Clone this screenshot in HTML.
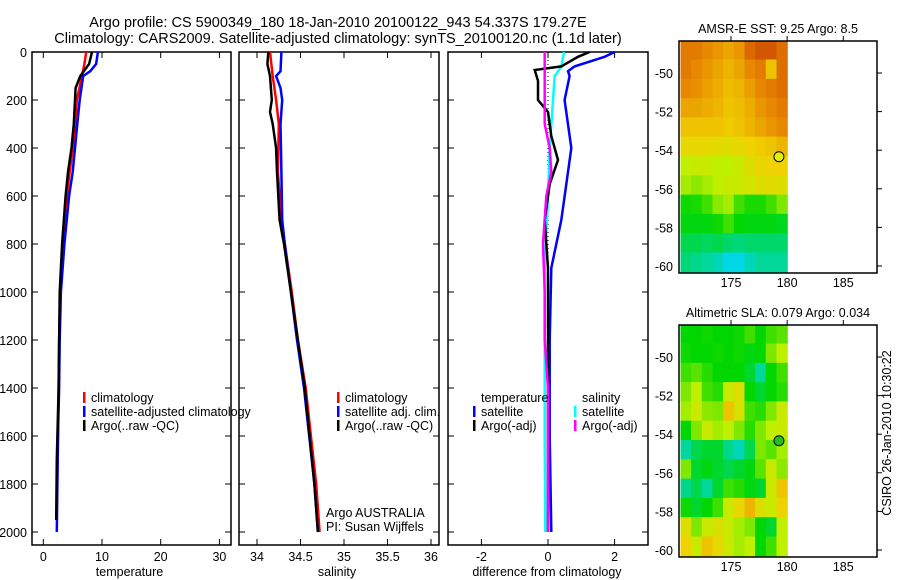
<!DOCTYPE html>
<html><head><meta charset="utf-8"><style>
body{margin:0;background:#fff;}
svg{display:block;font-family:"Liberation Sans",sans-serif;}
</style></head><body>
<svg id="fig" width="900" height="580" xmlns="http://www.w3.org/2000/svg">
<text x="338" y="27" font-size="14.5" text-anchor="middle">Argo profile: CS 5900349_180 18-Jan-2010 20100122_943 54.337S 179.27E</text>
<text x="338" y="43" font-size="14.5" text-anchor="middle">Climatology: CARS2009. Satellite-adjusted climatology: synTS_20100120.nc (1.1d later)</text>
<g id="plots"></g>
<text transform="translate(891,433) rotate(-90)" font-size="12.5" text-anchor="middle">CSIRO 26-Jan-2010 10:30:22</text>
</svg>
<script>
// ---------- data ----------
const tempClimDepth=[0,50,100,200,300,400,500,600,700,800,1000,1200,1400,1600,1880];
const tempClim=[7.3,7.0,6.6,5.7,5.5,5.0,4.5,4.0,3.6,3.3,2.9,2.7,2.6,2.5,2.3];
const tempSatDepth=[0,50,80,100,200,300,400,500,600,800,1000,1200,1400,1600,1800,2000];
const tempSat=[9.3,9.0,8.0,6.8,6.2,5.8,5.4,5.0,4.4,3.6,3.0,2.8,2.7,2.5,2.4,2.3];
const tempArgoDepth=[0,50,100,150,200,300,400,500,600,800,1000,1400,1700,1950];
const tempArgo=[8.3,7.8,6.3,5.5,5.4,5.2,4.8,4.2,3.8,3.2,2.8,2.6,2.3,2.2];

const salClimDepth=[0,100,200,300,500,700,800,1000,1200,1400,1600,1800,2000];
const salClim=[34.15,34.18,34.22,34.25,34.24,34.28,34.32,34.40,34.47,34.56,34.62,34.68,34.72];
const salSatDepth=[0,80,100,150,200,300,500,700,800,1000,1200,1400,1600,1800,2000];
const salSat=[34.28,34.27,34.22,34.27,34.29,34.27,34.28,34.29,34.32,34.39,34.46,34.54,34.60,34.66,34.70];
const salArgoDepth=[0,50,100,200,250,300,400,500,700,800,1000,1400,1800,2000];
const salArgo=[34.13,34.12,34.15,34.17,34.15,34.18,34.22,34.23,34.26,34.31,34.39,34.55,34.66,34.70];

const dTSatDepth=[0,20,60,80,100,200,400,500,700,800,900,1200,1600,2000];
const dTSat=[2.0,1.7,0.8,0.6,0.65,0.5,0.7,0.6,0.4,0.25,0.1,0.05,0.05,0.1];
const dSSatDepth=[0,60,100,200,400,600,900,1200,1600,2000];
const dSSat=[0.48,0.4,0.2,0.15,0.05,0.0,-0.1,-0.1,-0.1,-0.08];
const dTArgoDepth=[0,20,60,75,120,200,250,350,450,550,700,900,1200,2000];
const dTArgo=[1.25,0.9,0.4,-0.4,-0.3,-0.3,0.0,0.1,0.3,0.05,-0.1,0,0,0];
const dSArgoDepth=[0,100,200,300,400,500,600,800,1000,1200,1400,2000];
const dSArgo=[-0.1,-0.1,-0.1,-0.1,0.05,0.1,-0.05,-0.15,-0.1,-0.1,0.0,0.0];

const mapLons=[171,172,173,174,175,176,177,178,179,180];
const mapLats=[-48.8,-49.8,-50.8,-51.8,-52.8,-53.8,-54.8,-55.8,-56.8,-57.8,-58.8,-59.8];
const sstGrid=[
[0.82,0.82,0.80,0.78,0.76,0.78,0.85,0.88,0.88,0.84],
[0.82,0.80,0.78,0.76,0.74,0.76,0.80,0.82,0.72,0.84],
[0.80,0.79,0.77,0.75,0.73,0.74,0.77,0.80,0.82,0.84],
[0.76,0.76,0.75,0.74,0.72,0.73,0.75,0.78,0.80,0.82],
[0.72,0.72,0.72,0.72,0.71,0.72,0.74,0.76,0.78,0.80],
[0.68,0.68,0.68,0.67,0.67,0.68,0.70,0.71,0.72,0.74],
[0.60,0.62,0.62,0.60,0.60,0.62,0.66,0.69,0.70,0.70],
[0.58,0.56,0.58,0.60,0.62,0.62,0.64,0.66,0.67,0.66],
[0.46,0.47,0.50,0.56,0.58,0.50,0.47,0.47,0.50,0.55],
[0.44,0.44,0.44,0.46,0.50,0.45,0.44,0.44,0.44,0.43],
[0.40,0.40,0.39,0.40,0.38,0.37,0.38,0.38,0.38,0.38],
[0.37,0.36,0.35,0.33,0.30,0.30,0.33,0.35,0.35,0.35]];
const slaGrid=[
[0.45,0.45,0.46,0.45,0.45,0.46,0.50,0.45,0.50,0.52],
[0.46,0.45,0.45,0.46,0.45,0.46,0.44,0.45,0.55,0.60],
[0.50,0.52,0.48,0.45,0.45,0.45,0.42,0.35,0.45,0.50],
[0.55,0.60,0.50,0.48,0.62,0.66,0.45,0.42,0.45,0.48],
[0.58,0.62,0.56,0.55,0.72,0.65,0.50,0.48,0.55,0.62],
[0.45,0.55,0.62,0.58,0.60,0.55,0.48,0.55,0.60,0.62],
[0.35,0.40,0.42,0.42,0.36,0.33,0.40,0.55,0.52,0.58],
[0.55,0.42,0.44,0.42,0.40,0.42,0.44,0.52,0.62,0.56],
[0.36,0.40,0.35,0.42,0.50,0.48,0.44,0.42,0.62,0.72],
[0.46,0.42,0.45,0.50,0.62,0.68,0.74,0.66,0.62,0.70],
[0.66,0.55,0.62,0.65,0.62,0.58,0.55,0.45,0.42,0.60],
[0.70,0.62,0.72,0.68,0.62,0.58,0.60,0.45,0.50,0.60]];
const argoLon=[179.27], argoLat=[-54.337];
const profileDepthTicks=[0,200,400,600,800,1000,1200,1400,1600,1800,2000];
const tempTicks=[0,10,20,30], salTicks=[34,34.5,35,35.5,36], diffTicks=[-2,0,2];
const mapLonTicks=[175,180,185], mapLatTicks=[-50,-52,-54,-56,-58,-60];

// ---------- drawing ----------
const NS="http://www.w3.org/2000/svg";
const root=document.getElementById('plots');
function mk(tag,attrs,parent){const e=document.createElementNS(NS,tag);for(const k in attrs)e.setAttribute(k,attrs[k]);(parent||root).appendChild(e);return e;}
function txt(x,y,s,size,anchor,parent){const t=mk('text',{x:x,y:y,'font-size':size,'text-anchor':anchor||'start'},parent);t.textContent=s;return t;}

const yD=d=>52+d*0.24;
const panels=[
 {name:'temperature',x0:32,x1:231,sx:v=>43.3+v*5.87,ticks:tempTicks,label:'temperature'},
 {name:'salinity',x0:239,x1:439,sx:v=>257+(v-34)*87,ticks:salTicks,label:'salinity'},
 {name:'difference',x0:448,x1:648,sx:v=>548+v*33.3,ticks:diffTicks,label:'difference from climatology'}];
panels.forEach((p,i)=>{
 const g=mk('g',{});
 
 
 mk('rect',{x:p.x0,y:52,width:p.x1-p.x0,height:493,fill:'none',stroke:'#000','stroke-width':1.5},g);
 profileDepthTicks.forEach(d=>{
  mk('line',{x1:p.x0,x2:p.x0+6,y1:yD(d),y2:yD(d),stroke:'#000'},g);
  mk('line',{x1:p.x1,x2:p.x1-6,y1:yD(d),y2:yD(d),stroke:'#000'},g);
  if(i===0){const t=txt(27,yD(d)+5,String(d),12.5,'end',g);}
 });
 p.ticks.forEach(v=>{
  const x=p.sx(v);
  mk('line',{x1:x,x2:x,y1:545,y2:539,stroke:'#000'},g);
  mk('line',{x1:x,x2:x,y1:52,y2:58,stroke:'#000'},g);
  const t=txt(x,561,String(v),12.5,'middle',g);
  
  
 });
 const xl=txt((p.x0+p.x1)/2+(i===2?-1:-2),576,p.label,12.5,'middle',g);
 
 
});
function line(panel,depths,vals,color,name){
 const pts=depths.map((d,k)=>panel.sx(vals[k]).toFixed(1)+','+yD(d).toFixed(1)).join(' ');
 const l=mk('polyline',{points:pts,fill:'none',stroke:color,'stroke-width':2.5});
 
 
}
mk('line',{x1:548,x2:548,y1:52,y2:532,stroke:'#000','stroke-dasharray':'1,3'});
line(panels[0],tempClimDepth,tempClim,'#f00','temp-climatology-line');
line(panels[0],tempSatDepth,tempSat,'#00f','temp-satellite-line');
line(panels[0],tempArgoDepth,tempArgo,'#000','temp-argo-line');
line(panels[1],salClimDepth,salClim,'#f00','sal-climatology-line');
line(panels[1],salSatDepth,salSat,'#00f','sal-satellite-line');
line(panels[1],salArgoDepth,salArgo,'#000','sal-argo-line');
line(panels[2],dTSatDepth,dTSat,'#00f','diff-temp-satellite-line');
line(panels[2],dSSatDepth,dSSat,'#0ff','diff-sal-satellite-line');
line(panels[2],dTArgoDepth,dTArgo,'#000','diff-temp-argo-line');
line(panels[2],dSArgoDepth,dSArgo,'#f0f','diff-sal-argo-line');

function legend(x,y,color,label,name){
 const g=mk('g',{});
 
 
 if(color)mk('rect',{x:x,y:y-10,width:2.5,height:11,fill:color},g);
 txt(x+8,y,label,12.5,'start',g);
}
legend(83,402,'#f00','climatology','legend-climatology');
legend(83,416,'#00f','satellite-adjusted climatology','legend-satellite-adjusted');
legend(83,430,'#000','Argo(..raw -QC)','legend-argo-raw');
legend(337,402,'#f00','climatology','legend-sal-climatology');
legend(337,416,'#00f','satellite adj. clim.','legend-sal-satellite');
legend(337,430,'#000','Argo(..raw -QC)','legend-sal-argo');
legend(473,402,null,'temperature','legend-temperature-header');
legend(473,416,'#00f','satellite','legend-diff-temp-sat');
legend(473,430,'#000','Argo(-adj)','legend-diff-temp-argo');
legend(574,402,null,'salinity','legend-salinity-header');
legend(574,416,'#0ff','satellite','legend-diff-sal-sat');
legend(574,430,'#f0f','Argo(-adj)','legend-diff-sal-argo');
txt(326,517,'Argo AUSTRALIA',12.5,'start');
txt(326,531,'PI: Susan Wijffels',12.5,'start');

// ---------- maps ----------
const stops=[[0,[0,0,255]],[0.3,[0,215,230]],[0.45,[0,215,0]],[0.6,[190,240,0]],[0.7,[240,210,0]],[0.8,[232,135,0]],[0.9,[205,75,0]],[1,[170,20,0]]];
function cmap(v){for(let i=1;i<stops.length;i++){if(v<=stops[i][0]){const a=stops[i-1],b=stops[i];const t=(v-a[0])/(b[0]-a[0]);const c=a[1].map((q,k)=>Math.round(q+(b[1][k]-q)*t));return 'rgb('+c.join(',')+')';}}return 'rgb(170,20,0)';}
function drawMap(top,bottom,lat50,lat60,title,grid,markerFill,name){
 const g=mk('g',{});
 
 
 const sx=lon=>731+(lon-175)*11.23;
 const dLat=(lat60-lat50)/10;
 const sy=lat=>lat50+(-50-lat)*dLat;
 const x0=sx(170.5), x1=sx(180);
 const cw=(x1-x0)/mapLons.length;
 const clipId=name+'-clip';
 const cp=mk('clipPath',{id:clipId},g);
 mk('rect',{x:679,y:top,width:198,height:bottom-top},cp);
 const cells=mk('g',{'clip-path':'url(#'+clipId+')'},g);
 grid.forEach((row,r)=>row.forEach((v,c)=>{
  const yc=sy(mapLats[r]);
  const cell=mk('rect',{x:(x0+c*cw).toFixed(1),y:(yc-dLat/2).toFixed(1),width:(cw+0.6).toFixed(1),height:(dLat+0.6).toFixed(1),fill:cmap(v)},cells);
  
  
 }));
 mk('rect',{x:679,y:top,width:198,height:bottom-top,fill:'none',stroke:'#000','stroke-width':1.5},g);
 mapLonTicks.forEach(l=>{
  mk('line',{x1:sx(l),x2:sx(l),y1:top,y2:top-5,stroke:'#000'},g);
  const t=txt(sx(l),bottom+14,String(l),12.5,'middle',g);
  
  
 });
 mapLatTicks.forEach(l=>{
  mk('line',{x1:877,x2:882,y1:sy(l),y2:sy(l),stroke:'#000'},g);
  const t=txt(673,sy(l)+5,String(l),12.5,'end',g);
  
  
 });
 const m=mk('circle',{cx:sx(argoLon[0]),cy:sy(argoLat[0]),r:5,fill:markerFill,stroke:'#000'},g);
 
 
 const t=txt(778,top-8,title,12.5,'middle',g);
 
 
}
drawMap(41,273,73,266,'AMSR-E SST: 9.25 Argo: 8.5',sstGrid,'#e0f000','sst-map');
drawMap(325,557,357,550,'Altimetric SLA: 0.079 Argo: 0.034',slaGrid,'#20c020','sla-map');
</script>
</body></html>
